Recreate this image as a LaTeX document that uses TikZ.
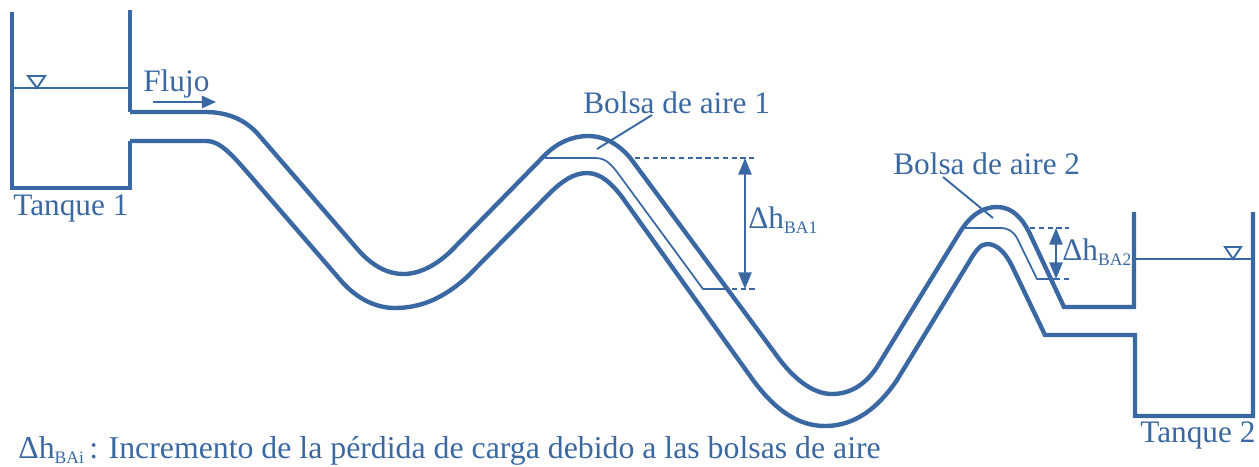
\documentclass[tikz,border=0pt]{standalone}
\usepackage{fontspec}
\setmainfont{Liberation Serif}
\usetikzlibrary{arrows.meta}
\definecolor{azul}{RGB}{58,104,163}
\tikzset{
	pared/.style={azul,line width=2.5pt,line join=miter},
	fino/.style={azul,line width=1.1pt},
	aire/.style={azul,line width=1pt},
	cota/.style={azul,densely dashed,line width=1pt},
	flecha/.style={azul,line width=1.2pt,{Triangle[length=9.5pt,width=7.5pt]}-{Triangle[length=9.5pt,width=7.5pt]}},
	texto/.style={azul,font=\fontsize{17.8}{20}\selectfont,inner sep=0pt},
}
\newcommand{\incr}[1]{Δh\raisebox{-3pt}{\fontsize{10}{10}\selectfont #1}}

\begin{document}
\begin{tikzpicture}[x=0.02cm,y=-0.02cm]
\useasboundingbox (0,0) rectangle (1259,467);

% tanque 1
\draw[pared] (12,12) -- (12,188) -- (130,188) -- (130,141);
\draw[pared] (130,10) -- (130,112);
\coordinate (n1a) at (12,88);
\coordinate (n1b) at (130,88);
\draw[fino] (n1a) -- (n1b);
\draw[fino] (28,76) -- (45,76) -- (37,88) -- cycle;

% tubo, pared superior
\draw[pared] (130,112) -- (205,112)
	.. controls (225,112) and (243,118) .. (257,133)
	-- (360,252)
	.. controls (373,266) and (388,274) .. (403,274)
	.. controls (420,274) and (436,265) .. (450,252)
	-- (545,155)
	.. controls (557,143) and (572,136) .. (588,136)
	.. controls (606,136) and (622,146) .. (634,163)
	-- (780,360)
	.. controls (797,382) and (815,394) .. (832,394)
	.. controls (850,394) and (865,385) .. (877,367)
	-- (960,232)
	.. controls (970,216) and (982,207) .. (997,207)
	.. controls (1012,207) and (1022,218) .. (1029,232)
	-- (1064,307) -- (1134,307) -- (1134,212);

% tubo, pared inferior
\draw[pared] (130,141) -- (207,141)
	.. controls (220,141) and (233,156) .. (247,172)
	-- (343,283)
	.. controls (358,299) and (376,308) .. (395,308)
	.. controls (422,308) and (445,297) .. (467,277)
	-- (550,193)
	.. controls (562,181) and (574,173) .. (587,173)
	.. controls (601,173) and (612,184) .. (622,197)
	-- (753,380)
	.. controls (775,410) and (798,426) .. (825,426)
	.. controls (855,426) and (878,408) .. (897,380)
	-- (969,262)
	.. controls (975,252) and (980,244) .. (987,244)
	.. controls (998,244) and (1006,254) .. (1012,266)
	-- (1045,335) -- (1135,335) -- (1135,416) -- (1253,416) -- (1253,212);

% tanque 2
\coordinate (n2a) at (1134,259);
\coordinate (n2b) at (1253,259);
\draw[fino] (n2a) -- (n2b);
\draw[fino] (1225,247) -- (1241,247) -- (1233,259) -- cycle;

% bolsas de aire
\draw[aire] (545,158) -- (595,158) .. controls (605,158) and (610,163) .. (617,172) -- (703,289) -- (723,289);
\draw[aire] (963,228) -- (1000,228) .. controls (1008,228) and (1013,231) .. (1017,238) -- (1037,279) -- (1055,279);

% cotas
\coordinate (c1a) at (635,158);
\coordinate (c1b) at (755,158);
\coordinate (c1c) at (723,289);
\coordinate (c1d) at (755,289);
\coordinate (c2a) at (1030,228);
\coordinate (c2b) at (1069,228);
\coordinate (c2c) at (1055,279);
\coordinate (c2d) at (1069,279);
\draw[cota] (c1a) -- (c1b);
\draw[cota] (c1c) -- (c1d);
\draw[cota] (c2a) -- (c2b);
\draw[cota] (c2c) -- (c2d);
\coordinate (f1a) at (745,158);
\coordinate (f1b) at (745,289);
\coordinate (f2a) at (1056,228);
\coordinate (f2b) at (1056,279);
\draw[flecha] (f1a) -- (f1b);
\draw[flecha] (f2a) -- (f2b);

% flujo
\coordinate (q1) at (153,102);
\coordinate (q2) at (216,102);
\draw[fino,-{Triangle[length=8pt,width=7pt]}] (q1) -- (q2);

% textos
\node[texto,anchor=base west] (flujo) at (143,91) {Flujo};
\node[texto,anchor=base west] (tanque1) at (13,215) {Tanque 1};
\node[texto,anchor=base west] (tanque2) at (1140,442) {Tanque 2};
\node[texto,anchor=base west] (bolsa1) at (583,113) {Bolsa de aire 1};
\node[texto,anchor=base west] (bolsa2) at (893,174) {Bolsa de aire 2};
\node[texto,anchor=base west] (dh1) at (748,228) {\incr{BA1}};
\node[texto,anchor=base west] (dh2) at (1062,260) {\incr{BA2}};
\node[texto,anchor=base west,font=\fontsize{18.1}{20}\selectfont] (nota) at (18,458) {\incr{BAi}\,: Incremento de la pérdida de carga debido a las bolsas de aire};

% lineas de referencia
\coordinate (l1) at (597,149);
\coordinate (l2) at (993,218);
\draw[fino] (652,115) -- (l1);
\draw[fino] (943,177) -- (l2);

\end{tikzpicture}
\end{document}
